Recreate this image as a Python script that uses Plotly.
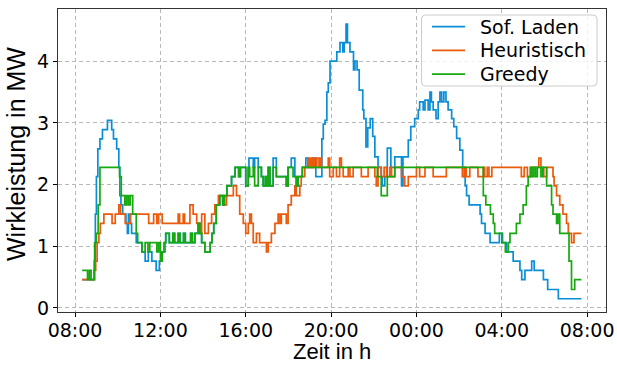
import pandas as pd
import plotly.graph_objects as go

# Load profiles of the charging strategies, step changes in minutes after 08:00
base = pd.Timestamp("2021-06-01 08:00")

sof_min = [20, 54, 57, 60, 64, 70, 77, 91, 103, 108, 117, 123, 126, 129, 134, 143, 147, 150, 155, 159,
           172, 188, 197, 206, 216, 228, 237, 244, 253, 255, 265, 275, 280, 290, 295, 305, 310, 325, 330,
           337, 346, 351, 356, 365, 380, 385, 390, 397, 407, 415, 420, 427, 440, 450, 460, 465, 480, 487,
           489, 501, 505, 515, 524, 529, 535, 538, 543, 548, 557, 566, 594, 599, 608, 618, 622, 627, 639,
           649, 655, 669, 677, 694, 698, 703, 708, 712, 717, 736, 745, 753, 757, 762, 766, 773, 783, 787,
           793, 799, 809, 812, 818, 823, 830, 837, 843, 852, 861, 864, 871, 878, 888, 899, 918, 922, 937,
           944, 955, 965, 969, 979, 984, 993, 998, 1002, 1007, 1015, 1021, 1026, 1031, 1037, 1043, 1049,
           1059, 1065, 1073, 1082, 1090, 1094, 1097, 1101, 1108, 1139, 1143, 1153, 1167, 1193, 1202, 1213,
           1232, 1251, 1256, 1265, 1284, 1291, 1317, 1329, 1359, 1424]
sof_mw = [0.46, 0.76, 1.52, 2.13, 2.58, 2.74, 2.89, 3.04, 2.89, 2.74, 2.58, 2.28, 1.82, 1.67, 1.52, 1.37,
          1.21, 1.52, 1.37, 1.21, 1.06, 0.91, 0.76, 0.91, 0.76, 0.61, 0.76, 0.91, 1.06, 1.21, 1.06, 1.21,
          1.06, 1.21, 1.06, 1.21, 1.06, 1.21, 1.06, 1.21, 1.37, 1.21, 1.06, 0.91, 1.06, 1.21, 1.37, 1.67,
          1.82, 1.67, 1.82, 1.98, 2.13, 2.28, 2.13, 2.28, 1.98, 2.28, 2.43, 2.28, 2.43, 2.28, 2.13, 1.98,
          2.13, 1.98, 2.28, 1.98, 2.43, 2.13, 1.98, 2.28, 2.43, 2.13, 1.98, 2.13, 2.28, 2.43, 2.28, 2.43,
          2.13, 2.74, 2.98, 3.04, 3.50, 3.65, 4.00, 4.15, 4.30, 4.15, 4.30, 4.60, 4.30, 4.15, 3.86, 4.00,
          3.86, 3.53, 3.21, 3.07, 2.61, 2.92, 3.07, 2.78, 2.45, 2.28, 2.13, 1.98, 2.13, 2.59, 2.28, 2.45,
          1.98, 2.45, 2.72, 2.94, 3.07, 3.21, 3.34, 3.21, 3.37, 3.21, 3.50, 3.34, 3.21, 3.07, 3.34, 3.50,
          3.34, 3.50, 3.34, 3.21, 3.07, 2.94, 2.75, 2.56, 2.28, 2.13, 1.98, 1.82, 1.67, 1.52, 1.37, 1.21,
          1.06, 1.21, 1.06, 0.91, 0.76, 0.61, 0.46, 0.61, 0.76, 0.61, 0.46, 0.30, 0.15, 0.15]

heur_min = [20, 53, 58, 62, 67, 71, 81, 104, 113, 123, 128, 141, 156, 207, 221, 230, 235, 245, 290, 294,
            304, 308, 323, 332, 342, 351, 356, 365, 375, 384, 393, 403, 417, 426, 445, 454, 463, 473, 480,
            487, 491, 496, 501, 510, 519, 538, 543, 552, 562, 571, 576, 580, 594, 599, 608, 618, 622, 632,
            636, 646, 655, 660, 663, 667, 670, 674, 680, 686, 689, 693, 712, 716, 726, 735, 744, 749, 754,
            768, 773, 782, 805, 824, 843, 847, 852, 861, 869, 876, 885, 890, 899, 918, 927, 937, 960, 969,
            984, 1007, 1044, 1089, 1096, 1100, 1110, 1133, 1148, 1152, 1159, 1164, 1172, 1255, 1263, 1272,
            1283, 1304, 1310, 1318, 1326, 1344, 1347, 1354, 1363, 1372, 1382, 1387, 1396, 1403, 1424]
heur_mw = [0.46, 0.61, 0.76, 1.06, 1.21, 1.37, 1.52, 1.37, 1.52, 1.67, 1.52, 1.37, 1.52, 1.37, 1.52, 1.37,
           1.52, 1.37, 1.52, 1.37, 1.52, 1.37, 1.67, 1.52, 1.37, 1.21, 1.52, 1.21, 1.37, 1.52, 1.67, 1.82,
           1.67, 1.82, 1.98, 1.82, 1.52, 1.37, 1.21, 1.37, 1.52, 1.37, 1.06, 1.21, 1.06, 0.91, 1.06, 1.21,
           1.37, 1.52, 1.37, 1.52, 1.37, 1.67, 1.82, 1.98, 1.82, 1.98, 2.13, 2.28, 2.43, 2.28, 2.43, 2.28,
           2.43, 2.28, 2.43, 2.28, 2.43, 2.28, 2.43, 2.13, 2.28, 2.13, 2.43, 2.28, 2.13, 2.28, 2.13, 2.28,
           2.13, 2.28, 2.13, 1.98, 2.28, 2.13, 2.28, 2.13, 2.28, 2.13, 2.28, 2.13, 1.98, 2.13, 2.28, 2.13,
           2.28, 2.13, 2.28, 2.13, 2.28, 2.13, 2.28, 2.13, 2.28, 2.13, 2.28, 2.13, 2.28, 2.13, 2.28, 2.13,
           2.28, 2.43, 2.28, 2.13, 2.28, 2.13, 1.98, 1.82, 1.67, 1.52, 1.37, 1.21, 1.06, 1.21, 1.21]

greedy_min = [20, 35, 40, 45, 55, 60, 65, 70, 125, 130, 140, 145, 150, 155, 162, 172, 176, 188, 197, 205,
              210, 230, 235, 240, 245, 250, 255, 265, 275, 280, 290, 295, 305, 310, 325, 330, 337, 346, 351,
              356, 365, 380, 385, 390, 397, 407, 415, 420, 427, 440, 450, 460, 465, 480, 487, 491, 501, 505,
              515, 524, 529, 535, 538, 543, 548, 557, 566, 594, 599, 613, 622, 627, 639, 850, 861, 878, 899,
              1148, 1155, 1168, 1176, 1180, 1200, 1210, 1218, 1223, 1241, 1251, 1260, 1269, 1274, 1280, 1285,
              1290, 1295, 1300, 1310, 1315, 1326, 1340, 1344, 1354, 1358, 1363, 1389, 1396, 1405, 1424]
greedy_mw = [0.61, 0.46, 0.61, 0.46, 1.06, 1.21, 1.67, 2.28, 2.13, 1.82, 1.67, 1.82, 1.67, 1.82, 1.52, 1.21,
             1.06, 0.91, 1.06, 0.91, 1.06, 0.91, 1.06, 0.76, 0.91, 1.06, 1.21, 1.06, 1.21, 1.06, 1.21, 1.06,
             1.21, 1.06, 1.21, 1.06, 1.21, 1.37, 1.21, 1.06, 0.91, 1.06, 1.21, 1.37, 1.67, 1.82, 1.67, 1.82,
             1.98, 2.13, 2.28, 2.13, 2.28, 1.98, 2.28, 2.13, 2.28, 1.98, 2.28, 2.13, 1.98, 2.13, 1.98, 2.28,
             1.98, 2.28, 2.13, 1.98, 2.28, 2.13, 1.98, 2.13, 2.28, 2.13, 1.82, 2.13, 2.28, 1.82, 1.67, 1.52,
             1.37, 1.21, 1.06, 0.91, 1.06, 1.21, 1.37, 1.52, 1.67, 1.98, 2.13, 2.28, 2.13, 2.28, 2.13, 2.28,
             2.13, 2.28, 1.98, 1.67, 1.52, 1.37, 1.52, 1.21, 0.76, 0.30, 0.46, 0.46]

tick_minutes = [0, 240, 480, 720, 960, 1200, 1440]
tick_labels = ["08:00", "12:00", "16:00", "20:00", "00:00", "04:00", "08:00"]

names = ["Sof. Laden", "Heuristisch", "Greedy"]
colors = ["#0a8ed6", "#ec5a0c", "#15a90f"]

# Plot area in pixels (figure 617 x 365)
W, H = 617, 365
PL, PR, PT, PB = 58, 606, 9, 312


def to_time(minutes):
    return [base + pd.Timedelta(minutes=m) for m in minutes]


def px_x(px):
    return (px - PL) / (PR - PL)


def px_y(py):
    return (PB - py) / (PB - PT)


fig = go.Figure()
for name, mins, vals, color in zip(names, [sof_min, heur_min, greedy_min],
                                   [sof_mw, heur_mw, greedy_mw], colors):
    fig.add_trace(go.Scatter(
        x=to_time(mins), y=vals, name=name, mode="lines", showlegend=False,
        line=dict(color=color, width=1.7, shape="hv"),
    ))

tick_font = dict(family="DejaVu Sans", size=19, color="#000000")
xtitle_font = dict(family="Liberation Sans", size=22, color="#000000")
ytitle_font = dict(family="Liberation Sans", size=25, color="#000000")
legend_font = dict(family="DejaVu Sans", size=19, color="#000000")
grid_dash = "4px,3px"

# Legend frame with slightly rounded corners
bx0, bx1, by0, by1 = px_x(421.5), px_x(597), px_y(15), px_y(86)
rx, ry = 4 / (PR - PL), 4 / (PB - PT)
frame = (f"M {bx0 + rx},{by0} L {bx1 - rx},{by0} Q {bx1},{by0} {bx1},{by0 - ry} "
         f"L {bx1},{by1 + ry} Q {bx1},{by1} {bx1 - rx},{by1} L {bx0 + rx},{by1} "
         f"Q {bx0},{by1} {bx0},{by1 + ry} L {bx0},{by0 - ry} Q {bx0},{by0} {bx0 + rx},{by0} Z")
shapes = [dict(type="path", xref="paper", yref="paper", path=frame,
               line=dict(color="#cccccc", width=1), fillcolor="rgba(255,255,255,0.8)")]
annotations = []
row_y = [26.7, 50.4, 74.1]
for name, color, ry_px in zip(names, colors, row_y):
    shapes.append(dict(type="line", xref="paper", yref="paper",
                       x0=px_x(432), x1=px_x(465), y0=px_y(ry_px), y1=px_y(ry_px),
                       line=dict(color=color, width=1.7)))
    annotations.append(dict(xref="paper", yref="paper", x=px_x(478), y=px_y(ry_px),
                            xanchor="left", yanchor="middle", text=name, showarrow=False,
                            font=legend_font))

# Axis titles
annotations.append(dict(xref="paper", yref="paper", x=px_x(332), y=px_y(351), xanchor="center",
                        yanchor="middle", text="Zeit in h", showarrow=False, font=xtitle_font))
annotations.append(dict(xref="paper", yref="paper", x=px_x(16), y=px_y(154), xanchor="center",
                        yanchor="middle", text="Wirkleistung in MW", textangle=-90,
                        showarrow=False, font=ytitle_font))

fig.update_layout(
    width=W, height=H,
    margin=dict(l=PL, r=W - PR, t=PT, b=H - PB),
    paper_bgcolor="white", plot_bgcolor="white",
    showlegend=False,
    shapes=shapes, annotations=annotations,
)

fig.update_xaxes(
    type="date", automargin=False,
    range=[base - pd.Timedelta(minutes=48), base + pd.Timedelta(minutes=1493)],
    tickvals=to_time(tick_minutes), ticktext=tick_labels,
    tickfont=tick_font, ticks="outside", ticklen=4, tickwidth=1, tickcolor="#000000",
    ticklabelstandoff=-3,
    showline=True, mirror=True, linecolor="#333333", linewidth=1.3,
    showgrid=True, gridcolor="#b8b8b8", gridwidth=1, griddash=grid_dash,
    zeroline=False,
)
fig.update_yaxes(
    automargin=False,
    range=[-0.065, 4.846],
    tickvals=[0, 1, 2, 3, 4],
    tickfont=tick_font, ticks="outside", ticklen=4, tickwidth=1, tickcolor="#000000",
    showline=True, mirror=True, linecolor="#333333", linewidth=1.3,
    showgrid=True, gridcolor="#b8b8b8", gridwidth=1, griddash=grid_dash,
    zeroline=False,
)

fig.write_html("out.html")
